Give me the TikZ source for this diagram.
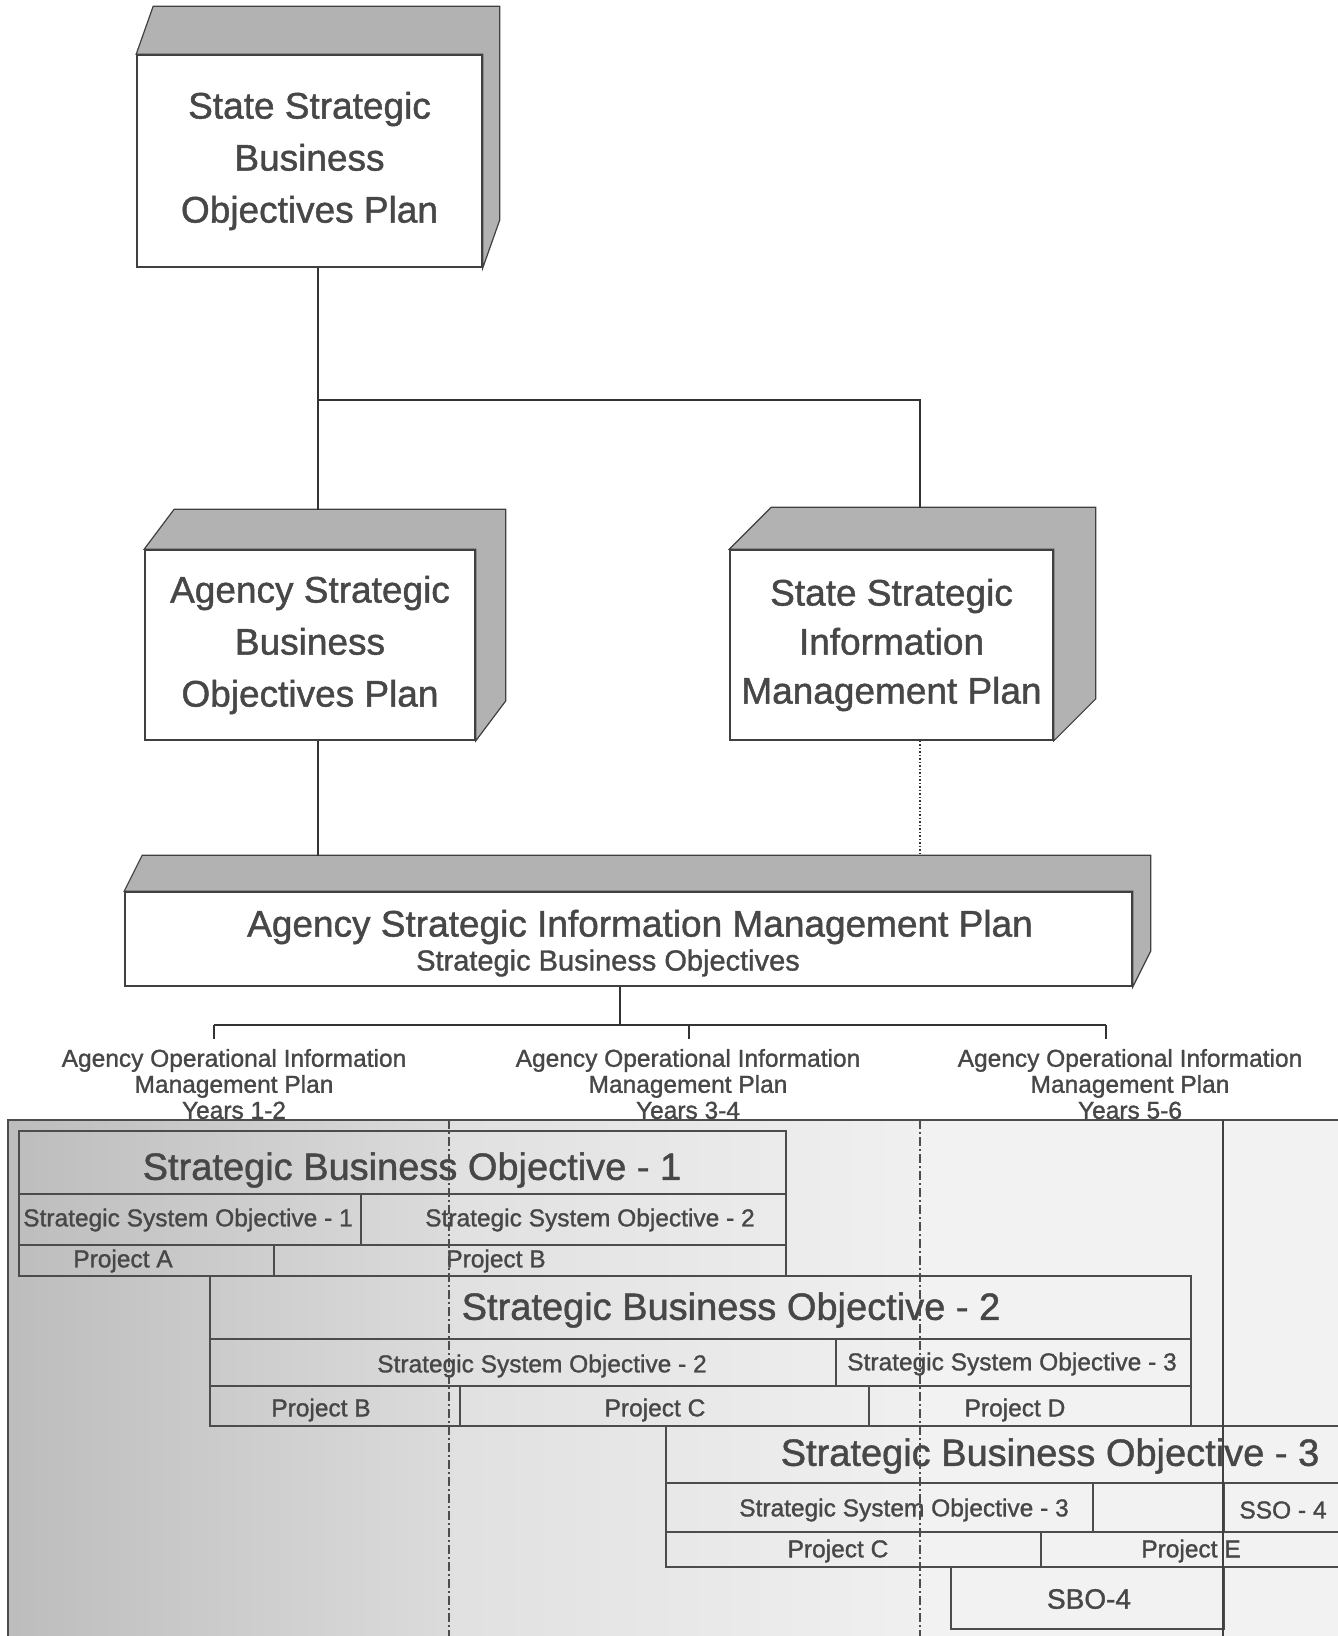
\documentclass[tikz,border=0pt]{standalone}
\usepackage{fontspec}
\setmainfont{Liberation Sans}[FakeBold=1.2]
\newfontfamily\heavy{Liberation Sans}[FakeBold=1.2]
\usetikzlibrary{calc}
\newcommand\depthbox[3]{\filldraw[face] (#1.north west) -- ++(#2,#3) -- ($(#1.north east)+(#2,#3)$) -- ($(#1.south east)+(#2,#3)$) -- (#1.south east) -- (#1.north east) -- cycle;}
\newcommand\pb[5]{\node[pbox, minimum width={(#4-#2)*1pt}, minimum height={(#5-#3)*1pt}] (#1) at (#2,#3) {};}
\begin{document}
\begin{tikzpicture}[x=1pt,y=-1pt,
  txt/.style={text=black!72, inner sep=0pt, align=center},
  front/.style={draw=black!75, line width=1.6pt, fill=white, inner sep=0pt, text=black!72, align=center},
  face/.style={draw=black!75, line width=1.2pt, fill=gray!60},
  pbox/.style={draw=black!70, line width=1.8pt, inner sep=0pt, anchor=north west},
  link/.style={draw=black!80, line width=1.5pt},
  colsep/.style={draw=black!70, line width=1.3pt, dash pattern=on 9pt off 3pt on 2pt off 3pt},
  big/.style={txt, font=\heavy\fontsize{38}{40}\selectfont},
  mid/.style={txt, font=\heavy\fontsize{24.5}{26}\selectfont},
]
\useasboundingbox (0,0) rectangle (1338,1636);
\clip (0,0) rectangle (1338,1636);

% ---------- 3D boxes ----------
\node[front, minimum width=345pt, minimum height=212pt, font=\heavy\fontsize{37}{52}\selectfont] (ssbo) at (309.5,161) {State Strategic\\Business\\Objectives Plan};
\depthbox{ssbo}{17}{-48}

\node[front, minimum width=330pt, minimum height=190pt, font=\heavy\fontsize{37}{52}\selectfont] (asbo) at (310,645) {Agency Strategic\\Business\\Objectives Plan};
\depthbox{asbo}{30}{-40}

\node[front, minimum width=323pt, minimum height=190pt, font=\heavy\fontsize{37}{49}\selectfont] (ssim) at (891.5,645) {State Strategic\\Information\\Management Plan};
\depthbox{ssim}{42}{-42}

\node[front, minimum width=1007pt, minimum height=94pt] (aim) at (628.5,939) {};
\depthbox{aim}{18}{-36}
\node[txt, font=\heavy\fontsize{37}{40}\selectfont] (aimt) at (640,927) {Agency Strategic Information Management Plan};
\node[txt, font=\heavy\fontsize{29}{32}\selectfont] (aims) at (608,963) {Strategic Business Objectives};

% ---------- connectors ----------
\coordinate (jL) at (318,400);
\coordinate (jR) at (920,400);
\coordinate (asboTop) at (318,510);
\coordinate (ssimTop) at (920,508);
\coordinate (aimTopL) at (318,856);
\coordinate (aimTopR) at (920,856);
\draw[link] (ssbo.south -| jL) -- (jL) -- (asboTop);
\draw[link] (jL) -- (jR) -- (ssimTop);
\draw[link] (asbo.south -| jL) -- (aimTopL);
\draw[link, dotted] (ssim.south -| jR) -- (aimTopR);

% ---------- operational plans ----------
\node[mid] (op1) at (234,1084) {Agency Operational Information\\Management Plan\\Years 1-2};
\node[mid] (op2) at (688,1084) {Agency Operational Information\\Management Plan\\Years 3-4};
\node[mid] (op3) at (1130,1084) {Agency Operational Information\\Management Plan\\Years 5-6};
\coordinate (bm) at (620,1025);
\coordinate (b1) at (214,1025);
\coordinate (b2) at (689,1025);
\coordinate (b3) at (1106,1025);
\draw[link] (aim.south -| bm) -- (bm);
\draw[link] (b1) -- (b3);
\draw[link] (b1) -- ++(0,14);
\draw[link] (b2) -- ++(0,14);
\draw[link] (b3) -- ++(0,14);

% ---------- timeline panel ----------
\fill[left color=gray!52, right color=gray!28] (8,1120) rectangle (449,1636);
\fill[left color=gray!24, right color=gray!12] (449,1120) rectangle (920,1636);
\fill[gray!10] (920,1120) rectangle (1338,1636);
\draw[black!70, line width=1.5pt] (8,1636) -- (8,1120) -- (1338,1120);

% SBO-1
\pb{sboA}{18}{1130}{785}{1193}
\pb{ssoA}{18}{1193}{360}{1244}
\pb{ssoB}{360}{1193}{785}{1244}
\pb{prjA}{18}{1244}{273}{1275}
\pb{prjB}{273}{1244}{785}{1275}
\node[big] (tA) at (412,1170) {Strategic Business Objective - 1};
\node[mid] (tssoA) at (188,1220) {Strategic System Objective - 1};
\node[mid] (tssoB) at (590,1220) {Strategic System Objective - 2};
\node[mid] (tprjA) at (123,1261) {Project A};
\node[mid] (tprjB) at (496,1261) {Project B};

% SBO-2
\pb{sboB}{209}{1275}{1190}{1338}
\pb{ssoC}{209}{1338}{835}{1385}
\pb{ssoD}{835}{1338}{1190}{1385}
\pb{prjC}{209}{1385}{459}{1425}
\pb{prjD}{459}{1385}{868}{1425}
\pb{prjE}{868}{1385}{1190}{1425}
\node[big] (tB) at (731,1310) {Strategic Business Objective - 2};
\node[mid] (tssoC) at (542,1366) {Strategic System Objective - 2};
\node[mid] (tssoD) at (1012,1364) {Strategic System Objective - 3};
\node[mid] (tprjC) at (321,1410) {Project B};
\node[mid] (tprjD) at (655,1410) {Project C};
\node[mid] (tprjE) at (1015,1410) {Project D};

% SBO-3
\pb{sboC}{665}{1425}{1345}{1482}
\pb{ssoE}{665}{1482}{1092}{1531}
\pb{ssoF}{1092}{1482}{1223}{1531}
\pb{ssoG}{1223}{1482}{1345}{1531}
\pb{prjF}{665}{1531}{1040}{1566}
\pb{prjG}{1040}{1531}{1345}{1566}
\node[big] (tC) at (1050,1456) {Strategic Business Objective - 3};
\node[mid] (tssoE) at (904,1510) {Strategic System Objective - 3};
\node[mid] (tssoG) at (1283,1510) {SSO - 4};
\node[mid] (tprjF) at (838,1551) {Project C};
\node[mid] (tprjG) at (1191,1551) {Project E};

% SBO-4
\pb{sboD}{950}{1566}{1223}{1628}
\node[txt, font=\heavy\fontsize{28}{30}\selectfont] (tD) at (1089,1599) {SBO-4};

% column separators
\draw[colsep] (449,1120) -- (449,1636);
\draw[colsep] (920,1120) -- (920,1636);
\draw[black!75, line width=1.5pt] (1223,1120) -- (1223,1636);
\end{tikzpicture}
\end{document}
